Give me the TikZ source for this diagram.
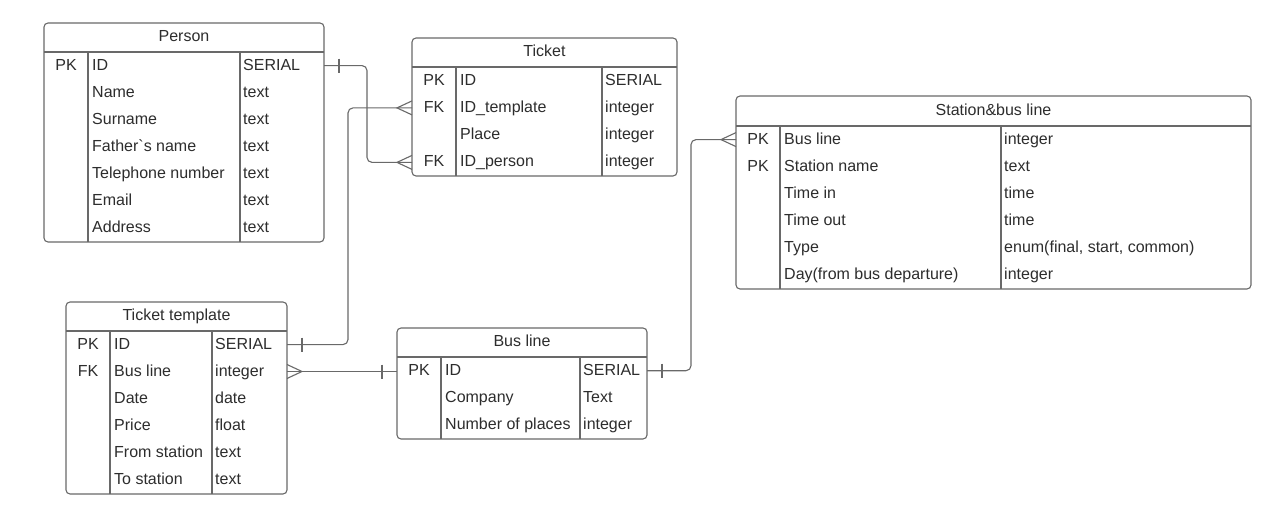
\documentclass[tikz,border=0pt]{standalone}
\usepackage{fontspec}
\setmainfont{Liberation Sans}
\definecolor{lncol}{RGB}{105,105,105}
\definecolor{txcol}{RGB}{45,45,45}
\tikzset{
  tbl/.style={draw=lncol, line width=1.1pt},
  tblbox/.style={draw=lncol, line width=1.1pt, rounded corners=4pt},
  cell/.style={inner sep=0pt, text=txcol, font=\fontsize{16}{19}\selectfont},
  conn/.style={draw=lncol, line width=1.1pt, rounded corners=5pt},
  tick/.style={draw=lncol, line width=1.1pt},
}
\newcommand\ertab[9]{% name, x1, x2, ytop, yhead, ybot, c1, c2, title
  \draw[tblbox] (#2,#4) rectangle (#3,#6);
  \draw[tbl] (#2,#5) -- (#3,#5);
  \draw[tbl] (#7,#5) -- (#7,#6);
  \draw[tbl] (#8,#5) -- (#8,#6);
  \node[cell,anchor=base] (#1) at ({(#2+#3)/2},{(#4+#5)/2+4.3}) {#9};
}
\newcommand\errow[9]{% name, idx, keycx, c1, c2, y, key, field, type
  \node[cell,anchor=base] (#1k#2) at (#3,#6+4.5) {#7};
  \node[cell,anchor=base west] (#1f#2) at (#4+4,#6+4.5) {#8};
  \node[cell,anchor=base west] (#1t#2) at (#5+3,#6+4.5) {#9};
}
\begin{document}
\begin{tikzpicture}[x=1pt,y=-1pt]
\useasboundingbox (0,0) rectangle (1280,524);
\fill[white] (0,0) rectangle (1280,524);

% Person
\ertab{person}{44}{324}{23}{52}{242}{88}{240}{Person}
\errow{pe}{1}{66}{88}{240}{65.57}{PK}{ID}{SERIAL}
\errow{pe}{2}{66}{88}{240}{92.71}{}{Name}{text}
\errow{pe}{3}{66}{88}{240}{119.85}{}{Surname}{text}
\errow{pe}{4}{66}{88}{240}{147.0}{}{Father\textasciigrave s name}{text}
\errow{pe}{5}{66}{88}{240}{174.14}{}{Telephone number}{text}
\errow{pe}{6}{66}{88}{240}{201.28}{}{Email}{text}
\errow{pe}{7}{66}{88}{240}{228.42}{}{Address}{text}

% Ticket
\ertab{ticket}{412}{677}{38}{67}{176}{456}{602}{Ticket}
\errow{tk}{1}{434}{456}{602}{80.6}{PK}{ID}{SERIAL}
\errow{tk}{2}{434}{456}{602}{107.9}{FK}{ID\_template}{integer}
\errow{tk}{3}{434}{456}{602}{135.1}{}{Place}{integer}
\errow{tk}{4}{434}{456}{602}{162.4}{FK}{ID\_person}{integer}

% Station&bus line
\ertab{station}{736}{1251}{96}{126}{289}{780}{1001}{Station\&bus line}
\errow{st}{1}{758}{780}{1001}{139.6}{PK}{Bus line}{integer}
\errow{st}{2}{758}{780}{1001}{166.75}{PK}{Station name}{text}
\errow{st}{3}{758}{780}{1001}{193.9}{}{Time in}{time}
\errow{st}{4}{758}{780}{1001}{221.1}{}{Time out}{time}
\errow{st}{5}{758}{780}{1001}{248.25}{}{Type}{enum(final, start, common)}
\errow{st}{6}{758}{780}{1001}{275.4}{}{Day(from bus departure)}{integer}

% Ticket template
\ertab{template}{66}{287}{302}{331}{494}{110}{212}{Ticket template}
\errow{tt}{1}{88}{110}{212}{344.6}{PK}{ID}{SERIAL}
\errow{tt}{2}{88}{110}{212}{371.75}{FK}{Bus line}{integer}
\errow{tt}{3}{88}{110}{212}{398.9}{}{Date}{date}
\errow{tt}{4}{88}{110}{212}{426.1}{}{Price}{float}
\errow{tt}{5}{88}{110}{212}{453.25}{}{From station}{text}
\errow{tt}{6}{88}{110}{212}{480.4}{}{To station}{text}

% Bus line
\ertab{busline}{397}{647}{328}{357}{439}{441}{580}{Bus line}
\errow{bl}{1}{419}{441}{580}{370.7}{PK}{ID}{SERIAL}
\errow{bl}{2}{419}{441}{580}{398.0}{}{Company}{Text}
\errow{bl}{3}{419}{441}{580}{425.3}{}{Number of places}{integer}

% connection points
\coordinate (peID) at (324,65.57);
\coordinate (tkPers) at (412,162.4);
\coordinate (tkTmpl) at (412,107.9);
\coordinate (ttID) at (287,344.6);
\coordinate (ttBus) at (287,371.5);
\coordinate (blIDl) at (397,371.5);
\coordinate (blIDr) at (647,370.7);
\coordinate (stBus) at (736,139.6);
\coordinate (b1) at (367,162.4);
\coordinate (b2) at (348,107.9);
\coordinate (b4) at (691,139.6);

% Person -> Ticket (ID_person)
\draw[conn] (peID) -| (b1) -- (tkPers);
\draw[tick] ([shift={(15,-7)}]peID) -- ([shift={(15,7)}]peID);
\draw[tick] ([shift={(0,-7)}]tkPers) -- ([shift={(-15,0)}]tkPers) -- ([shift={(0,7)}]tkPers);

% Ticket template -> Ticket (ID_template)
\draw[conn] (ttID) -| (b2) -- (tkTmpl);
\draw[tick] ([shift={(15,-7)}]ttID) -- ([shift={(15,7)}]ttID);
\draw[tick] ([shift={(0,-7)}]tkTmpl) -- ([shift={(-15,0)}]tkTmpl) -- ([shift={(0,7)}]tkTmpl);

% Ticket template (Bus line) -> Bus line
\draw[conn] (ttBus) -- (blIDl);
\draw[tick] ([shift={(-15,-7)}]blIDl) -- ([shift={(-15,7)}]blIDl);
\draw[tick] ([shift={(0,-7)}]ttBus) -- ([shift={(15,0)}]ttBus) -- ([shift={(0,7)}]ttBus);

% Bus line -> Station&bus line
\draw[conn] (blIDr) -| (b4) -- (stBus);
\draw[tick] ([shift={(15,-7)}]blIDr) -- ([shift={(15,7)}]blIDr);
\draw[tick] ([shift={(0,-7)}]stBus) -- ([shift={(-15,0)}]stBus) -- ([shift={(0,7)}]stBus);
\end{tikzpicture}
\end{document}
